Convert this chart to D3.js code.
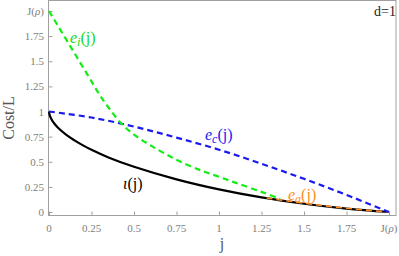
<!DOCTYPE html>
<html>
<head>
<meta charset="utf-8">
<script src="https://cdn.jsdelivr.net/npm/d3@7"></script>
<style>
  body { margin: 0; background: #fff; }
  svg { display: block; }
</style>
</head>
<body>
<div id="chart"></div>
<script>
// values: [j, Cost/L]
var iota = [[0, 1], [0.005, 0.958], [0.02, 0.906], [0.05, 0.843], [0.1, 0.77], [0.15, 0.713],
  [0.2, 0.663], [0.25, 0.619], [0.35, 0.543], [0.5, 0.45], [0.75, 0.325], [1, 0.225],
  [1.25, 0.145], [1.5, 0.082], [1.75, 0.033], [2, 0]];
var eI = [[0, 2.0], [0.05, 1.86], [0.1, 1.72], [0.15, 1.58], [0.2, 1.44], [0.25, 1.3],
  [0.3, 1.16], [0.35, 1.04], [0.42, 0.89], [0.5, 0.77], [0.6, 0.66], [0.75, 0.52],
  [0.9, 0.41], [1, 0.35], [1.1, 0.29], [1.25, 0.2], [1.36, 0.13]];
var eC = [[0, 1], [0.25, 0.94], [0.5, 0.85], [0.75, 0.74], [1, 0.62], [1.25, 0.48],
  [1.5, 0.33], [1.75, 0.17], [2, 0]];
var eA = [[1.28, 0.14], [1.5, 0.088], [1.75, 0.037], [2, 0]];

var xTicks = [0, 0.25, 0.5, 0.75, 1, 1.25, 1.5, 1.75, 2];
var xTickLabels = ["0", "0.25", "0.5", "0.75", "1", "1.25", "1.5", "1.75", "J(ρ)"];
var yTicks = [0, 0.25, 0.5, 0.75, 1, 1.25, 1.5, 1.75, 2];
var yTickLabels = ["0", "0.25", "0.5", "0.75", "1", "1.25", "1.5", "1.75", "J(ρ)"];

var width = 399, height = 256;
var frame = {left: 48.5, right: 396, top: 0.5, bottom: 215.5};
var serif = "'Liberation Serif', 'DejaVu Serif', serif";

var x = d3.scaleLinear().domain([0, 2]).range([49, 389]);
var y = d3.scaleLinear().domain([0, 2]).range([212, 11]);

var svg = d3.select("#chart").append("svg")
    .attr("width", width)
    .attr("height", height)
    .attr("font-family", serif);

// frame
svg.append("rect")
    .attr("x", frame.left).attr("y", frame.top)
    .attr("width", frame.right - frame.left)
    .attr("height", frame.bottom - frame.top)
    .attr("fill", "none")
    .attr("stroke", "#a0a0a0")
    .attr("stroke-width", 1);

function tickText(sel, labels) {
  sel.each(function(d, i) {
    var t = d3.select(this);
    var lab = labels[i];
    if (lab === "J(ρ)") {
      t.text("J(");
      t.append("tspan").attr("font-style", "italic").text("ρ");
      t.append("tspan").text(")");
    } else {
      t.text(lab);
    }
  });
}

// ticks, pointing into the frame
var xAxis = d3.axisTop(x).tickValues(xTicks).tickSize(4).tickFormat("");
var gx = svg.append("g").attr("transform", "translate(0," + frame.bottom + ")").call(xAxis);
gx.select(".domain").remove();
gx.selectAll("line").attr("stroke", "#a0a0a0");
svg.append("g").selectAll("text").data(xTicks).join("text")
    .attr("x", function(d) { return x(d); })
    .attr("y", 232)
    .attr("text-anchor", "middle")
    .attr("font-family", serif)
    .attr("font-size", 11)
    .attr("fill", "#808080")
    .call(tickText, xTickLabels);

var yAxis = d3.axisRight(y).tickValues(yTicks).tickSize(4).tickFormat("");
var gy = svg.append("g").attr("transform", "translate(" + frame.left + ",0)").call(yAxis);
gy.select(".domain").remove();
gy.selectAll("line").attr("stroke", "#a0a0a0");
svg.append("g").selectAll("text").data(yTicks).join("text")
    .attr("x", 44)
    .attr("y", function(d) { return y(d) + 4; })
    .attr("text-anchor", "end")
    .attr("font-family", serif)
    .attr("font-size", 11)
    .attr("fill", "#808080")
    .call(tickText, yTickLabels);

// curves
var line = d3.line()
    .x(function(d) { return x(d[0]); })
    .y(function(d) { return y(d[1]); })
    .curve(d3.curveCatmullRom.alpha(0.5));

svg.append("path").datum(iota)
    .attr("d", line).attr("fill", "none")
    .attr("stroke", "#000").attr("stroke-width", 2.2);

svg.append("path").datum(eA)
    .attr("d", line).attr("fill", "none")
    .attr("stroke", "#ff8a1e").attr("stroke-width", 1.6)
    .attr("stroke-dasharray", "6,4");

svg.append("path").datum(eC)
    .attr("d", line).attr("fill", "none")
    .attr("stroke", "#1a1aee").attr("stroke-width", 2.2)
    .attr("stroke-dasharray", "6,4");

svg.append("path").datum(eI)
    .attr("d", line).attr("fill", "none")
    .attr("stroke", "#11ee11").attr("stroke-width", 2.2)
    .attr("stroke-dasharray", "6,4");

// curve labels
function subLabel(px, py, color, base, sub) {
  var t = svg.append("text")
      .attr("x", px).attr("y", py)
      .attr("font-family", serif)
      .attr("font-size", 16)
      .attr("fill", color);
  t.append("tspan").attr("font-style", "italic").text(base);
  if (sub) {
    t.append("tspan").attr("font-style", "italic").attr("font-size", 12)
        .attr("dy", 3).text(sub);
    t.append("tspan").attr("dy", -3).text("(j)");
  } else {
    t.append("tspan").text("(j)");
  }
}
subLabel(70, 43, "#11dd11", "e", "i");
subLabel(205, 140, "#1a1aee", "e", "c");
subLabel(123, 189, "#000", "ι", null);
subLabel(288, 200, "#ff8a1e", "e", "a");

// titles
svg.append("text")
    .attr("x", 385).attr("y", 16)
    .attr("text-anchor", "middle")
    .attr("font-family", serif)
    .attr("font-size", 14)
    .attr("fill", "#222")
    .text("d=1");

svg.append("text")
    .attr("transform", "translate(14,118) rotate(-90)")
    .attr("text-anchor", "middle")
    .attr("font-family", serif)
    .attr("font-size", 16)
    .attr("fill", "#555")
    .text("Cost/L");

svg.append("text")
    .attr("x", 222).attr("y", 249)
    .attr("text-anchor", "middle")
    .attr("font-family", serif)
    .attr("font-size", 16)
    .attr("fill", "#555")
    .text("j");
</script>
</body>
</html>
